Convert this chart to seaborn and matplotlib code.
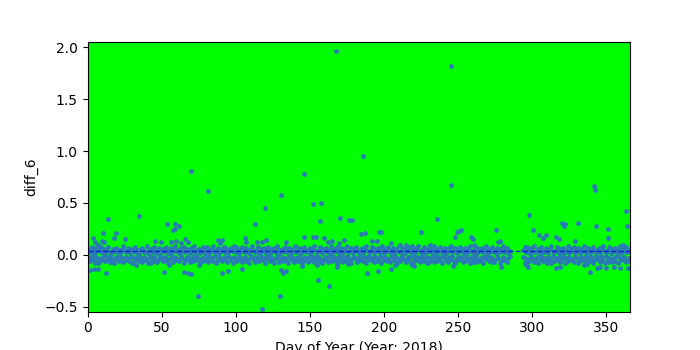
import numpy as np
import pandas as pd
import matplotlib
matplotlib.use("Agg")
import matplotlib.pyplot as plt
import seaborn as sns

# ---- data ----
# dense core band, values in hundredths, one value per day
core_hi_a = [6,3,8,4,2,7,5,9,3,4,6,2,5,8,3,1,6,4,7,3,5,2,6,9,4,3,7,5,2,6,
             4,8,3,5,1,6,7,3,4,9,2,5,6,3,8,4,2,7,5,3,6,4,8,2,5,7,3,6,9,4,
             5,2,7,4,8,3,6,5,2,7,4,9,3,5,6,2,4,8,3,7,5,1,6,4,9,3,5,7,2,6,
             4,8,3,6,2,5,7,4,9,3,5,2,6,8,4,3,7,5,2,6,9,4,3,5,8,2,6,4,7,3,
             5,8,2,6,4,7,3,9,5,2,6,4,8,3,5,7,2,6,4,9,3,5,7,2,6,8,4,3,5,7,
             2,6,9,4,3,5,8,2,6,4,7,3,5,9,2,6,4,8,3,5,7,2,6,4,9,3,5,7,2,6,
             8,4,3,5,7,2,6,9,4,3,5,8,2,6,4,7,3,5,9,2,6,4,8,3,5,7,2,6,4,9,
             3,5,7,2,6,8,4,3,5,7,2,6,9,4,3,5,8,2,6,4,7,3,5,9,2,6,4,8,3,5,
             7,2,6,4,9,3,5,7,2,6,8,4,3,5,7,2,6,9,4,3,5,8,2,6,4,7,3,5,9,2,
             6,4,8,3,5,7,2,6,4,9,3,5,7,2,4]
core_lo_a = [-3,-6,-1,-5,-8,-2,-4,-7,-3,-5,-1,-6,-4,-2,-7,-3,-5,-8,-2,-4,-6,-1,-3,-7,-5,-2,-4,-6,-3,-8,
             -2,-5,-4,-1,-6,-3,-7,-2,-5,-4,-8,-1,-3,-6,-2,-5,-7,-4,-1,-3,-6,-2,-5,-8,-4,-1,-3,-7,-2,-5,
             -4,-6,-1,-3,-8,-5,-2,-4,-7,-3,-6,-1,-5,-2,-4,-8,-3,-6,-1,-5,-7,-2,-4,-3,-6,-1,-8,-5,-2,-4,
             -6,-2,-4,-7,-1,-5,-3,-8,-2,-6,-4,-1,-5,-7,-3,-2,-6,-4,-8,-1,-3,-5,-7,-2,-4,-6,-1,-5,-3,-8,
             -1,-4,-6,-2,-5,-8,-3,-1,-7,-4,-2,-6,-3,-5,-8,-1,-4,-2,-7,-5,-3,-6,-1,-4,-8,-2,-5,-3,-7,-1,
             -5,-2,-7,-4,-1,-6,-3,-8,-5,-2,-4,-7,-1,-3,-6,-2,-5,-8,-4,-1,-3,-7,-2,-6,-4,-1,-5,-8,-3,-2,
             -4,-7,-1,-5,-3,-6,-2,-8,-4,-1,-5,-3,-7,-2,-6,-4,-1,-8,-3,-5,-2,-6,-4,-7,-1,-3,-5,-2,-8,-4,
             -6,-1,-3,-5,-7,-2,-4,-8,-1,-6,-3,-5,-2,-7,-4,-1,-6,-3,-8,-2,-5,-4,-1,-7,-3,-6,-2,-5,-8,-1,
             -3,-5,-7,-2,-4,-1,-6,-8,-3,-5,-2,-4,-7,-1,-6,-3,-5,-8,-2,-4,-1,-7,-3,-6,-5,-2,-8,-4,-1,-3,
             -6,-2,-5,-7,-4,-1,-3,-8,-6,-2,-5,-4,-7,-3,-1]
core_hi_b = [5,8,3,6,2,7,4,9,3,5,6,2,8,4,3,7,5,2,6,9,4,3,5,8,2,6,4,7,3,5,
             9,2,6,4,8,3,5,7,2,6,4,9,3,5,7,2,6,8,4,3,5,7,2,6,9,4,3,5,8,2,
             6,4,7,3,5,9,2,6,4,8,3,5]
core_lo_b = [-2,-8,-10,-4,-6,-1,-3,-7,-5,-2,-8,-4,-1,-6,-3,-5,-7,-2,-4,-8,
             -1,-6,-3,-5,-2,-7,-4,-1,-8,-3,-6,-2,-5,-4,-7,-1,-3,-8,-6,-2,
             -5,-4,-1,-7,-3,-6,-2,-8,-5,-1,-4,-3,-7,-2,-6,-8,-1,-5,-3,-4,
             -7,-2,-6,-1,-8,-3,-5,-4,-2,-7,-6,-3]
start_a, start_b = 1, 294

# scattered points away from the core band
extra_day = [167.7, 245.3, 185.9, 69.8, 146.1, 245.3, 341.9, 342.5, 81.2, 130.5,
             157.5, 152.1, 119.7, 363.5, 298.0, 34.6, 170.4, 13.7, 235.9, 176.2,
             178.5, 156.9, 319.8, 331.1,
             53.3, 59.0, 61.4, 57.4, 59.0, 10.4, 19.1, 17.8, 25.2, 4.0, 5.0, 6.8, 9.0,
             10.1, 11.3, 45.5, 49.5, 56.3, 59.6, 63.0, 65.7, 67.5,
             1.8, 4.5, 6.8, 12.4, 7.2, 15.0, 32.6, 42.8, 51.5, 54.7, 64.8, 67.5, 69.8, 74.3,
             113.0, 129.8, 117.7, 75.2, 90.7, 94.7, 104.2, 130.3, 133.7, 132.1, 144.7,
             88.0, 90.7, 89.3, 92.0, 106.2, 106.7, 114.1, 117.9, 120.4, 133.7, 146.0,
             80.8, 99.9,
             152.1, 154.1, 159.5, 162.2, 164.9, 169.7, 172.8, 184.5, 187.2, 196.7, 198.2,
             192.0, 195.3, 204.8, 211.0, 214.9, 219.0, 155.3, 162.9, 188.6, 196.0, 204.8,
             207.7, 168.3, 168.3, 154.8, 175.7, 219.0,
             225.1, 275.7, 249.2, 250.8, 252.1, 248.0, 258.9, 260.0, 260.9, 278.4, 276.9,
             231.2, 244.7, 220.6, 246.5, 279.1, 230.5, 260.4, 272.8,
             321.4, 322.1, 342.8, 351.3, 364.2, 300.7, 304.8, 307.0, 309.2, 315.8, 318.3,
             328.8, 351.3, 361.5, 296.2, 295.0, 295.8, 297.3, 310.2, 315.8, 318.7, 335.1,
             336.7, 339.2, 343.5, 345.7, 349.8, 355.4, 359.2, 364.9, 351.3]
extra_val = [1.96, 1.82, 0.95, 0.805, 0.776, 0.67, 0.66, 0.622, 0.62, 0.574,
             0.497, 0.487, 0.449, 0.42, 0.382, 0.372, 0.353, 0.343, 0.343, 0.333,
             0.333, 0.327, 0.305, 0.305,
             0.295, 0.295, 0.276, 0.24, 0.25, 0.208, 0.208, 0.16, 0.154, 0.16, 0.128, 0.10, 0.08,
             0.135, 0.128, 0.135, 0.12, 0.12, 0.135, 0.11, 0.15, 0.12,
             -0.144, -0.138, -0.138, -0.176, -0.08, -0.07, -0.10, -0.08, -0.167, -0.096, -0.167, -0.173, -0.18, -0.40,
             0.295, -0.394, -0.52, -0.096, -0.176, -0.157, -0.138, -0.15, -0.157, -0.176, -0.109,
             0.144, 0.147, 0.112, 0.08, 0.16, 0.122, 0.122, 0.122, 0.144, 0.122, 0.17,
             0.08, 0.08,
             0.173, 0.173, 0.16, 0.128, 0.135, 0.112, 0.144, 0.20, 0.21, 0.218, 0.218,
             0.135, 0.135, 0.112, 0.096, 0.096, 0.09, -0.24, -0.30, -0.173, -0.154, -0.135,
             -0.10, -0.10, -0.112, -0.096, -0.087, -0.10,
             0.218, 0.24, 0.224, 0.234, 0.24, 0.17, 0.17, 0.15, 0.10, 0.135, 0.122,
             0.10, 0.08, -0.106, -0.106, -0.115, -0.07, -0.07, -0.07,
             0.282, 0.295, 0.276, 0.25, 0.276, 0.24, 0.19, 0.16, 0.19, 0.176, 0.154,
             0.135, 0.16, 0.096, 0.08, -0.03, -0.08, -0.12, -0.08, -0.128, -0.112, -0.096,
             -0.09, -0.167, -0.128, -0.112, -0.128, -0.12, -0.128, -0.128, -0.07]
mean_level = 0.036
year = 2018

# ---- assemble table ----
days, vals = [], []
for start, hi, lo in [(start_a, core_hi_a, core_lo_a), (start_b, core_hi_b, core_lo_b)]:
    for i, v in enumerate(hi):
        days.append(start + i); vals.append(v / 100)
    for i, v in enumerate(lo):
        days.append(start + i); vals.append(v / 100)
days += extra_day
vals += extra_val
df = pd.DataFrame({"day": days, "diff_6": vals})

# ---- plot ----
fig, ax = plt.subplots(figsize=(7, 3.5), dpi=100)
ax.set_facecolor("#00ff00")
sns.scatterplot(data=df, x="day", y="diff_6", ax=ax, s=12, linewidth=0,
                color="#2a7ab8", zorder=2)
ax.axhline(mean_level, color="#0a1ed2", linestyle="--", linewidth=1.0, zorder=3)
ax.set_xlim(0, 366)
ax.set_ylim(-0.545, 2.05)
ax.set_xlabel(f"Day of Year (Year: {year})")
ax.set_ylabel("diff_6")
fig.savefig("out.png", dpi=100)
